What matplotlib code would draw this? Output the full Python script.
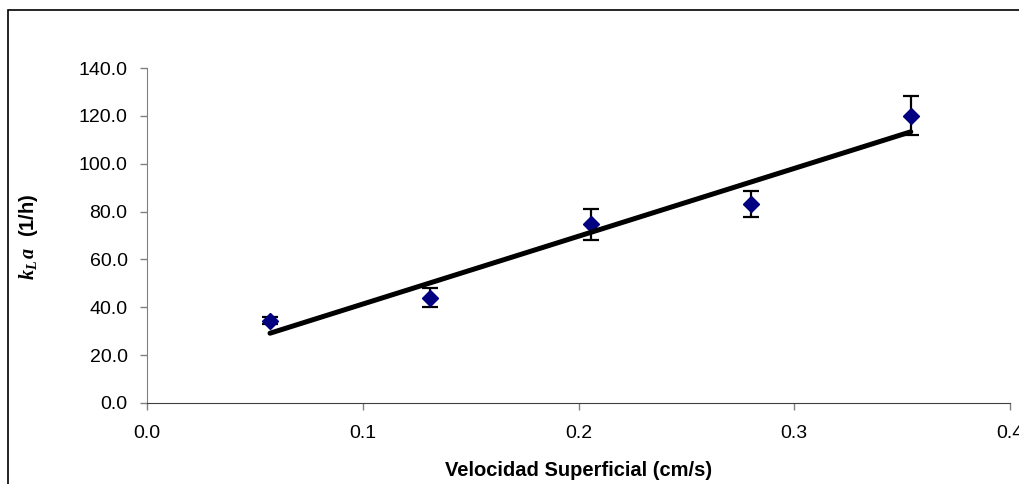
import numpy as np
import matplotlib
matplotlib.use("Agg")
import matplotlib.pyplot as plt
from matplotlib.patches import Rectangle
from matplotlib.ticker import FormatStrFormatter, MultipleLocator

# ─── Data ────────────────────────────────────────────────────────────────────
velocidad = [0.057, 0.131, 0.206, 0.280, 0.354]      # cm/s
kla       = [34.4, 44.0, 74.7, 83.2, 120.1]          # 1/h
kla_err   = [1.5, 3.9, 6.5, 5.6, 8.2]

# ─── Style ───────────────────────────────────────────────────────────────────
plt.rcParams["font.family"] = ["Liberation Sans", "DejaVu Sans"]
plt.rcParams["mathtext.fontset"] = "custom"
plt.rcParams["mathtext.it"] = "Liberation Serif:italic:bold"
plt.rcParams["mathtext.rm"] = "Liberation Serif:bold"

NAVY = "#000080"
AXC  = "#808080"

fig = plt.figure(figsize=(10.19, 4.84), dpi=100, facecolor="white")
ax = fig.add_axes([0.1443, 0.1674, 0.9912 - 0.1443, 0.8595 - 0.1674])

# outer chart frame (right/bottom edges fall outside the picture)
fig.patches.append(Rectangle((8 / 1019, -0.2), 1.2, 1.2 - 10 / 484,
                             transform=fig.transFigure, fill=False,
                             ec="black", lw=1.2, clip_on=False))

# data + error bars
ax.errorbar(velocidad, kla, yerr=kla_err, fmt="D", color=NAVY, ms=8,
            ecolor="black", elinewidth=1.6, capsize=6, capthick=1.6,
            zorder=3)

# linear trendline
m, b = np.polyfit(velocidad, kla, 1)
xt = np.array([velocidad[0], velocidad[-1]])
ax.plot(xt, m * xt + b, color="black", lw=3.6, solid_capstyle="round",
        zorder=4)

ax.set_xlim(0, 0.4)
ax.set_ylim(0, 140)
ax.xaxis.set_major_locator(MultipleLocator(0.1))
ax.yaxis.set_major_locator(MultipleLocator(20))
ax.xaxis.set_major_formatter(FormatStrFormatter("%.1f"))
ax.yaxis.set_major_formatter(FormatStrFormatter("%.1f"))

for side in ("top", "right"):
    ax.spines[side].set_visible(False)
ax.spines["left"].set_color(AXC)
ax.spines["bottom"].set_color("#404040")
ax.tick_params(axis="both", direction="out", length=5, width=1,
               color=AXC, labelsize=14, labelcolor="black")
ax.tick_params(axis="x", pad=11)
ax.tick_params(axis="y", pad=9)

fig.text(579 / 1019, 1 - 471 / 484, "Velocidad Superficial (cm/s)",
         ha="center", va="center", fontsize=14.5, fontweight="bold")
fig.text(28 / 1019, 1 - 237 / 484, r"$k_L\,a$  (1/h)", rotation=90,
         ha="center", va="center", fontsize=14.5, fontweight="bold")

fig.savefig("out.png", dpi=100)
